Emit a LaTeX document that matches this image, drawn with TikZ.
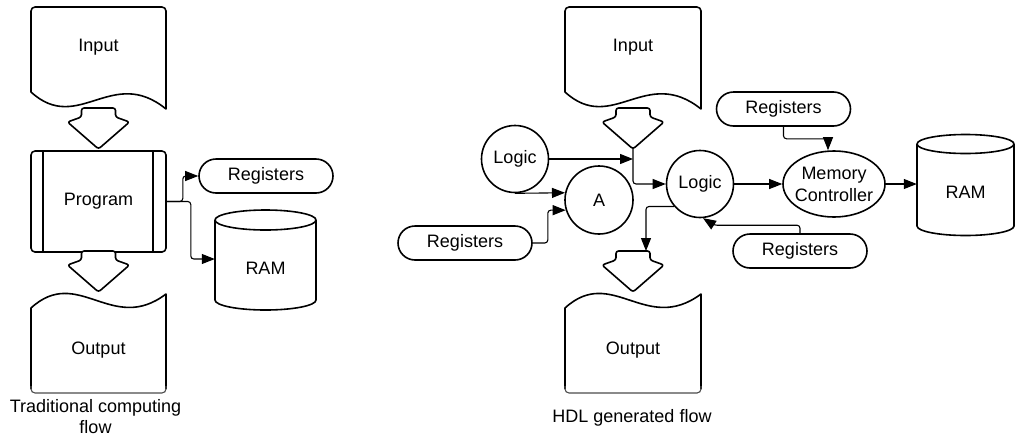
\documentclass[tikz,border=0pt]{standalone}
\usepackage{fontspec}
\setmainfont{Liberation Sans}
\usetikzlibrary{arrows.meta,calc,shapes.geometric}

% document shape with a wavy bottom edge: #1 left x, #2 right x
\newcommand\docwavebottom[2]{%
  \draw[shapeline, fill=white] ({#2},109)
    .. controls ({#1+81},65) and ({#1+47},135) .. ({#1},92)
    [rounded corners=4pt] -- ({#1},7) -- ({#2},7) [sharp corners] -- cycle;}
% document shape with a wavy top edge: #1 left x, #2 right x
\newcommand\docwavetop[2]{%
  \fill[white] ({#1},392) -- ({#1},308)
    .. controls ({#1+47},265) and ({#1+81},335) .. ({#2},294) -- ({#2},392) -- cycle;
  \draw[shapeline] ({#1},389) -- ({#1},308)
    .. controls ({#1+47},265) and ({#1+81},335) .. ({#2},294) -- ({#2},389);
  \draw[line width=1.1pt, black!70, rounded corners=4pt]
    ({#1},386) -- ({#1},393) -- ({#2},393) -- ({#2},386);}
% downward block arrow: #1 centre x, #2 top y
\newcommand\downblock[2]{%
  \draw[shapeline, fill=white, rounded corners=2.5pt]
    ({#1-17},{#2}) -- ({#1-17},{#2+9}) -- ({#1-31},{#2+14}) -- ({#1},{#2+41})
    -- ({#1+31},{#2+14}) -- ({#1+17},{#2+9}) -- ({#1+17},{#2}) -- cycle;}
% cylinder: #1 left x, #2 right x, #3 top centre y, #4 bottom centre y, #5 y radius
\newcommand\drum[5]{%
  \draw[shapeline, fill=white] ({#1},{#3}) -- ({#1},{#4})
    arc[start angle=180, end angle=360, x radius={(#2-#1)/2*1pt}, y radius=#5pt]
    -- ({#2},{#3});
  \draw[shapeline, fill=white] ({(#1+#2)/2},{#3})
    ellipse[x radius={(#2-#1)/2*1pt}, y radius=#5pt];}

\begin{document}
\begin{tikzpicture}[x=1pt, y=-1pt,
  font=\fontsize{18}{20}\selectfont,
  shapeline/.style={line width=1.6pt, line join=round},
  conn/.style={line width=1.1pt, rounded corners=3pt,
    -{Triangle[length=13pt,width=10pt]}},
  regs/.style={draw, shapeline, rounded corners=17pt, minimum width=134pt,
    minimum height=34pt, inner sep=0pt},
  logic/.style={draw, shapeline, circle, minimum size=67pt, inner sep=0pt},
  plain/.style={inner sep=0pt}]

\useasboundingbox (0,0) rectangle (1015,437);

% ---------- traditional computing flow ----------
\docwavebottom{31}{166}
\node[plain] (in1) at (98.5,47) {Input};
\node[draw, shapeline, rounded corners=4pt, minimum width=135pt,
      minimum height=101pt, inner sep=0pt] (prog) at (98.5,201.5) {Program};
\draw[shapeline] ([xshift=13pt]prog.north west) -- ([xshift=13pt]prog.south west);
\draw[shapeline] ([xshift=-14pt]prog.north east) -- ([xshift=-14pt]prog.south east);
\downblock{98.5}{108}
\downblock{98.5}{251}
\docwavetop{31}{166}
\node[plain] (out1) at (98.5,350) {Output};
\node[plain, align=center, font=\fontsize{18}{21}\selectfont] (cap1) at (95.5,417) {Traditional computing\\flow};

\node[regs] (r1) at (266,176) {Registers};
\drum{215}{316}{220}{300}{10}
\node[plain, minimum width=101pt] (ram1) at (265.5,268) {RAM};

\draw[conn] (prog.east) -- ++(16,0) |- (r1.west);
\draw[conn] (prog.east) -- ++(24,0) |- ([yshift=9pt]ram1.west);

% ---------- HDL generated flow ----------
\docwavebottom{565}{701}
\node[plain] (in2) at (633,47) {Input};
\downblock{633}{108}
\downblock{633}{251}
\docwavetop{565}{701}
\node[plain] (out2) at (633,350) {Output};
\node[plain] (cap2) at (632,418) {HDL generated flow};

\coordinate (tip2) at (633,148);
\coordinate (jn) at (633,159);
\coordinate (ostem) at (646,251);

\node[logic] (l1) at (515,159) {Logic};
\node[logic, minimum size=68pt] (a) at (599,200) {A};
\node[logic] (l2) at (700,184) {Logic};
\node[regs] (rm) at (465,243) {Registers};
\node[regs] (rtr) at (783.5,109) {Registers};
\node[regs] (rbr) at (800,251) {Registers};
\node[draw, shapeline, ellipse, minimum width=102pt, minimum height=66pt,
      inner xsep=-6pt, inner ysep=0pt, align=center,
      font=\fontsize{18}{22}\selectfont] (mc) at (834,184) {Memory\\Controller};
\drum{917}{1014}{144}{226}{9.5}
\node[plain, minimum width=97pt] (ram2) at (965.5,192) {RAM};

\draw[conn] (l1.east) -- (jn);
\draw[conn] (tip2) |- (l2.west);
\draw[conn] (l1.south) -- (a.168);
\draw[conn] (rm.east) -- ++(15,0) |- (a.197);
\draw[conn] (l2.221) -| (ostem);
\draw[conn] (l2.east) -- (mc.west);
\draw[conn] (mc.east) -- (mc.east -| ram2.west);
\draw[conn] (rtr.south) -- ++(0,12) -| ([xshift=-6pt]mc.north);
\draw[conn] (rbr.north) -- ++(0,-8) -- ++(-86,0) -- (l2.-85);

\end{tikzpicture}
\end{document}
